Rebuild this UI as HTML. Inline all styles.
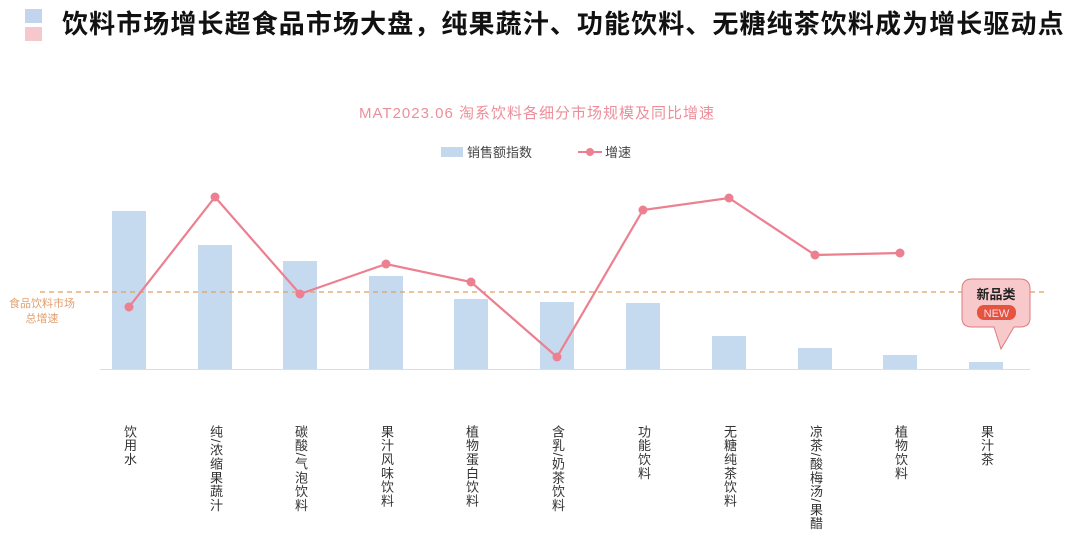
<!DOCTYPE html>
<html><head><meta charset="utf-8"><style>
body{margin:0;width:1080px;height:544px;background:#fff;position:relative;overflow:hidden;font-family:"Liberation Sans","Noto Sans CJK SC",sans-serif}
.h{position:absolute;left:62px;top:6px;font-size:26px;font-weight:bold;color:#111;letter-spacing:1.1px;white-space:nowrap;line-height:36px}
.v{position:absolute;top:425px;writing-mode:vertical-rl;font-size:13px;letter-spacing:0.8px;color:#333;line-height:14px;white-space:nowrap}
</style></head><body>
<div style="position:absolute;left:25px;top:9px;width:17px;height:14px;background:#c3d5ee"></div>
<div style="position:absolute;left:25px;top:27px;width:17px;height:14px;background:#f6c8cd"></div>
<div class="h">饮料市场增长超食品市场大盘，纯果蔬汁、功能饮料、无糖纯茶饮料成为增长驱动点</div>
<svg width="1080" height="544" style="position:absolute;left:0;top:0">
<text x="537" y="118" text-anchor="middle" font-size="15" letter-spacing="1" fill="#ec8f9b" font-family="Liberation Sans,Noto Sans CJK SC,sans-serif">MAT2023.06  淘系饮料各细分市场规模及同比增速</text>
<rect x="441" y="147" width="22" height="10" fill="#c3d8ec"/>
<text x="467" y="157" font-size="13" fill="#444" font-family="Liberation Sans,Noto Sans CJK SC,sans-serif">销售额指数</text>
<line x1="578" y1="152" x2="602" y2="152" stroke="#ec8090" stroke-width="2"/><circle cx="590" cy="152" r="4" fill="#ec8090"/>
<text x="605" y="157" font-size="13" fill="#444" font-family="Liberation Sans,Noto Sans CJK SC,sans-serif">增速</text>
<g fill="#c5daef">
<rect x="112" y="211" width="34" height="158"/><rect x="198" y="245" width="34" height="124"/>
<rect x="283" y="261" width="34" height="108"/><rect x="369" y="276" width="34" height="93"/>
<rect x="454" y="299" width="34" height="70"/><rect x="540" y="302" width="34" height="67"/>
<rect x="626" y="303" width="34" height="66"/><rect x="712" y="336" width="34" height="33"/>
<rect x="798" y="348" width="34" height="21"/><rect x="883" y="355" width="34" height="14"/>
<rect x="969" y="362" width="34" height="7"/></g>
<line x1="100" y1="369.5" x2="1030" y2="369.5" stroke="#ddd"/>
<line x1="40" y1="292" x2="1045" y2="292" stroke="#e0a060" stroke-width="1.2" stroke-dasharray="5,4"/>
<text x="42" y="307" text-anchor="middle" font-size="11" fill="#e0a070" font-family="Liberation Sans,Noto Sans CJK SC,sans-serif">食品饮料市场</text>
<text x="42" y="322" text-anchor="middle" font-size="11" fill="#e0a070" font-family="Liberation Sans,Noto Sans CJK SC,sans-serif">总增速</text>
<polyline points="129,307 215,197 300,294 386,264 471,282 557,357 643,210 729,198 815,255 900,253" fill="none" stroke="#ec8090" stroke-width="2.2"/>
<g fill="#ec8090"><circle cx="129" cy="307" r="4.5"/><circle cx="215" cy="197" r="4.5"/><circle cx="300" cy="294" r="4.5"/><circle cx="386" cy="264" r="4.5"/><circle cx="471" cy="282" r="4.5"/><circle cx="557" cy="357" r="4.5"/><circle cx="643" cy="210" r="4.5"/><circle cx="729" cy="198" r="4.5"/><circle cx="815" cy="255" r="4.5"/><circle cx="900" cy="253" r="4.5"/></g>
<path d="M972,279 Q962,279 962,289 L962,318 Q962,327 972,327 L994,327 L1001,349 L1014,327 L1020,327 Q1030,327 1030,318 L1030,289 Q1030,279 1020,279 Z" fill="#f8c9cb" stroke="#e07a7e" stroke-width="1"/>
<text x="996" y="299" text-anchor="middle" font-size="13" font-weight="bold" fill="#222" font-family="Liberation Sans,Noto Sans CJK SC,sans-serif">新品类</text>
<rect x="977" y="305" width="39" height="15" rx="7" fill="#e4543e"/>
<text x="996.5" y="317" text-anchor="middle" font-size="11" fill="#fde" font-family="Liberation Sans,sans-serif">NEW</text>
</svg>
<div class="v" style="left:122px">饮用水</div>
<div class="v" style="left:208px">纯/浓缩果蔬汁</div>
<div class="v" style="left:293px">碳酸/气泡饮料</div>
<div class="v" style="left:379px">果汁风味饮料</div>
<div class="v" style="left:464px">植物蛋白饮料</div>
<div class="v" style="left:550px">含乳/奶茶饮料</div>
<div class="v" style="left:636px">功能饮料</div>
<div class="v" style="left:722px">无糖纯茶饮料</div>
<div class="v" style="left:808px">凉茶/酸梅汤/果醋</div>
<div class="v" style="left:893px">植物饮料</div>
<div class="v" style="left:979px">果汁茶</div>
</body></html>
